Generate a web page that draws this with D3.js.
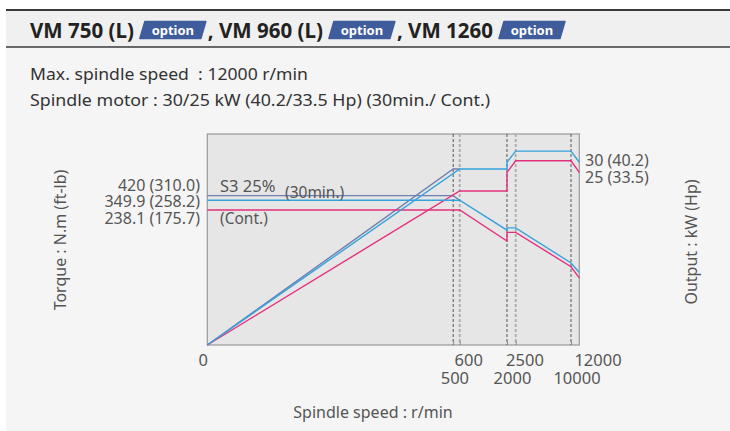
<!DOCTYPE html>
<html><head><meta charset="utf-8">
<script src="https://cdn.jsdelivr.net/npm/d3@7"></script>
<style>html,body{margin:0;padding:0;background:#fff;}svg{display:block;}text{white-space:pre;}</style>
</head><body>
<script>
// ---- data ----
const titleParts = ["VM 750 (L)", ", VM 960 (L)", ", VM 1260"];
const badgeText = "option";
const infoLines = ["Max. spindle speed  : 12000 r/min", "Spindle motor : 30/25 kW (40.2/33.5 Hp) (30min./ Cont.)"];
const speedBreaks = [0, 500, 600, 2000, 2500, 10000, 12000];
const topRowTicks = [0, 600, 2500, 12000];
const bottomRowTicks = [500, 2000, 10000];
const dashedDark = [500, 2000, 10000];
const dashedLight = [600, 2500];
const torqueLabels = ["420 (310.0)", "349.9 (258.2)", "238.1 (175.7)"];
const powerLabels = ["30 (40.2)", "25 (33.5)"];
// series: [speed r/min, relative level % of plot height]
const s3Torque = [[0,70.8],[500,70.8],[600,68.6]];
const s3Power = [[0,0],[500,83.4],[600,83.4]];
const min30Power = [[0,0],[600,83.4],[2000,83.4],[2000,86.6],[2500,91.9],[10000,91.9],[12000,86.6]];
const min30Torque = [[0,68.6],[600,68.6],[2000,54.4],[2000,55.5],[2500,55.5],[10000,38.9],[12000,34.4]];
const contPower = [[0,0],[600,73.0],[2000,73.0],[2000,81.8],[2500,87.3],[10000,87.3],[12000,81.8]];
const contTorque = [[0,64.0],[600,64.0],[2000,49.3],[2000,53.4],[2500,53.4],[10000,37.1],[12000,31.8]];

// ---- layout ----
const W = 730, H = 431;
const plot = {l: 207.3, r: 579.3, t: 134, b: 345};
const breakFrac = [0, 0.661, 0.6785, 0.8056, 0.829, 0.9777, 1];
const font = "'Noto Sans', 'Open Sans', sans-serif";
const txt = "#555";
const colS3 = "#6f7fae", colBlue = "#35a2dd", colPink = "#e5307d";

const svg = d3.select("body").append("svg").attr("width", W).attr("height", H);
svg.append("rect").attr("x", 6).attr("y", 9).attr("width", W - 6).attr("height", H - 9).attr("fill", "#f5f5f5");
// header
svg.append("rect").attr("x", 6).attr("y", 10).attr("width", W - 6).attr("height", 37).attr("fill", "#f0f0f0");
svg.append("line").attr("x1", 6).attr("x2", W).attr("y1", 10).attr("y2", 10).attr("stroke", "#3a3a3a").attr("stroke-width", 2);
svg.append("line").attr("x1", 6).attr("x2", W).attr("y1", 47).attr("y2", 47).attr("stroke", "#3a3a3a").attr("stroke-width", 1.5);

let cx = 30;
titleParts.forEach((t, i) => {
  const te = svg.append("text").attr("x", cx).attr("y", 37.5).attr("font-family", font)
    .attr("font-weight", "bold").attr("font-size", 20.5).attr("fill", "#222").text(t);
  const w = te.node().getComputedTextLength();
  cx += w + 6;
  const bw = 66, bh = 17, sk = 5, by = 21.5;
  svg.append("path").attr("d", `M${cx + sk},${by} L${cx + bw},${by} L${cx + bw - sk},${by + bh} L${cx},${by + bh} Z`)
    .attr("fill", "#3f5c9c").attr("stroke", "#3f5c9c").attr("stroke-linejoin", "round").attr("stroke-width", 1.5);
  svg.append("text").attr("x", cx + bw / 2).attr("y", by + 13).attr("text-anchor", "middle")
    .attr("font-family", font).attr("font-weight", "bold").attr("font-size", 13).attr("fill", "#fff").text(badgeText);
  cx += bw + 2;
});

svg.selectAll("text.info").data(infoLines).join("text").attr("class", "info")
  .attr("x", 30).attr("y", (d, i) => 80 + i * 26).attr("font-family", font).attr("font-size", 16.5)
  .attr("fill", "#333").attr("textLength", (d, i) => [278, 460][i]).attr("lengthAdjust", "spacingAndGlyphs").text(d => d);

// scales
const x = d3.scaleLinear().domain(speedBreaks).range(breakFrac.map(f => plot.l + f * (plot.r - plot.l)));
const y = d3.scaleLinear().domain([0, 100]).range([plot.b, plot.t]);

svg.append("rect").attr("x", plot.l).attr("y", plot.t).attr("width", plot.r - plot.l).attr("height", plot.b - plot.t)
  .attr("fill", "#e6e6e6").attr("stroke", "#9a9a9a").attr("stroke-width", 1.2);

// dashed lines
svg.selectAll("line.dl").data(dashedLight).join("line").attr("class", "dl")
  .attr("x1", d => x(d)).attr("x2", d => x(d)).attr("y1", plot.t).attr("y2", plot.b)
  .attr("stroke", "#aaa").attr("stroke-width", 1.8).attr("stroke-dasharray", "3,2");
svg.selectAll("line.dd").data(dashedDark).join("line").attr("class", "dd")
  .attr("x1", d => x(d)).attr("x2", d => x(d)).attr("y1", plot.t).attr("y2", plot.b)
  .attr("stroke", "#555").attr("stroke-width", 1).attr("stroke-dasharray", "3,2");

// axis ticks
const ax = svg.append("g").attr("transform", `translate(0,${plot.b})`)
  .call(d3.axisBottom(x).tickValues(speedBreaks.slice(1, -1)).tickSizeInner(-4).tickSizeOuter(0).tickFormat(""));
ax.select(".domain").remove();
ax.selectAll("line").attr("stroke", "#888");

// tick labels
const labDx = {0: -4, 600: 9, 2500: 9.3, 12000: 18.7, 500: 1.7, 2000: 5.5, 10000: 6};
svg.selectAll("text.tt").data(topRowTicks).join("text").attr("class", "tt")
  .attr("x", d => x(d) + labDx[d]).attr("y", 366).attr("text-anchor", "middle")
  .attr("font-family", font).attr("font-size", 16.5).attr("fill", txt).text(d => d);
svg.selectAll("text.tb").data(bottomRowTicks).join("text").attr("class", "tb")
  .attr("x", d => x(d) + labDx[d]).attr("y", 383.5).attr("text-anchor", "middle")
  .attr("font-family", font).attr("font-size", 16.5).attr("fill", txt).text(d => d);

// lines
const line = d3.line().x(d => x(d[0])).y(d => y(d[1]));
const series = [
  [s3Torque, colS3], [s3Power, colS3],
  [contTorque, colPink], [contPower, colPink],
  [min30Torque, colBlue], [min30Power, colBlue]
];
svg.selectAll("path.s").data(series).join("path").attr("class", "s")
  .attr("d", d => line(d[0])).attr("fill", "none").attr("stroke", d => d[1]).attr("stroke-width", 1.4);

// annotations
svg.append("text").attr("x", 220).attr("y", 192).attr("font-family", font).attr("font-size", 16.5).attr("fill", txt).text("S3 25%");
svg.append("text").attr("x", 285).attr("y", 198).attr("font-family", font).attr("font-size", 15.5).attr("fill", txt).text("(30min.)");
svg.append("text").attr("x", 220).attr("y", 224).attr("font-family", font).attr("font-size", 15.5).attr("fill", txt).text("(Cont.)");

svg.selectAll("text.tl").data(torqueLabels).join("text").attr("class", "tl")
  .attr("x", 200).attr("y", (d, i) => [191, 207, 224][i]).attr("text-anchor", "end")
  .attr("font-family", font).attr("font-size", 16).attr("fill", txt).text(d => d);
svg.selectAll("text.pl").data(powerLabels).join("text").attr("class", "pl")
  .attr("x", 585).attr("y", (d, i) => [166, 182.5][i])
  .attr("font-family", font).attr("font-size", 16).attr("fill", txt).text(d => d);

// axis titles
svg.append("text").attr("transform", "translate(66,240) rotate(-90)").attr("text-anchor", "middle")
  .attr("font-family", font).attr("font-size", 16).attr("fill", txt).text("Torque : N.m (ft-lb)");
svg.append("text").attr("transform", "translate(697,242) rotate(-90)").attr("text-anchor", "middle")
  .attr("font-family", font).attr("font-size", 16).attr("fill", txt).text("Output : kW (Hp)");
svg.append("text").attr("x", 373).attr("y", 418).attr("text-anchor", "middle")
  .attr("font-family", font).attr("font-size", 16).attr("fill", txt).text("Spindle speed : r/min");
</script>
</body></html>
